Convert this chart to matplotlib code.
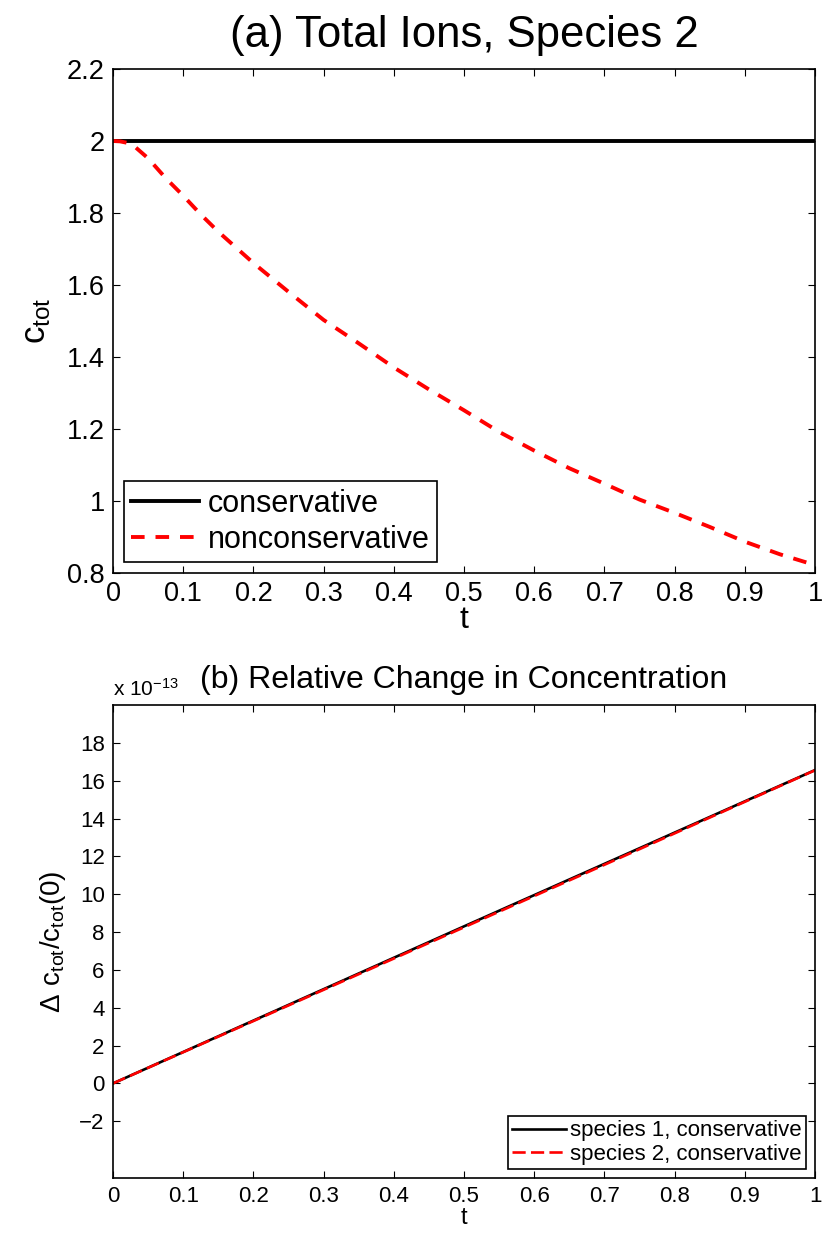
import matplotlib
matplotlib.use("Agg")
import matplotlib.pyplot as plt

plt.rcParams['font.family'] = ['Liberation Sans', 'DejaVu Sans']
plt.rcParams['mathtext.default'] = 'regular'

# (a) total ions, species 2
t_a = [0, 0.01, 0.02, 0.03, 0.05, 0.075, 0.1, 0.125, 0.15, 0.2, 0.25, 0.3, 0.35,
       0.4, 0.45, 0.5, 0.55, 0.6, 0.65, 0.7, 0.75, 0.8, 0.85, 0.9, 0.95, 1.0]
c_cons = [2.0] * len(t_a)
c_noncons = [2.0, 1.999, 1.995, 1.986, 1.952, 1.897, 1.848, 1.796, 1.748, 1.661,
             1.581, 1.503, 1.438, 1.371, 1.31, 1.252, 1.192, 1.14, 1.091, 1.048,
             1.004, 0.967, 0.928, 0.887, 0.852, 0.822]

# (b) relative change, in units of 1e-13
t_b = [0, 0.25, 0.5, 0.75, 1.0]
rel_sp1 = [0, 4.15, 8.3, 12.43, 16.56]
rel_sp2 = [0, 4.12, 8.25, 12.38, 16.55]

xticks = [0, 0.1, 0.2, 0.3, 0.4, 0.5, 0.6, 0.7, 0.8, 0.9, 1]
xticklabels = ["0", "0.1", "0.2", "0.3", "0.4", "0.5", "0.6", "0.7", "0.8", "0.9", "1"]
yticks_a = [0.8, 1.0, 1.2, 1.4, 1.6, 1.8, 2.0, 2.2]
yticklabels_a = ["0.8", "1", "1.2", "1.4", "1.6", "1.8", "2", "2.2"]
yticks_b = [-2, 0, 2, 4, 6, 8, 10, 12, 14, 16, 18]
yticklabels_b = ["\u22122", "0", "2", "4", "6", "8", "10", "12", "14", "16", "18"]

fig = plt.figure(figsize=(8.22, 12.34), dpi=100)
W, H = 822, 1234

def box(l, t, r, b):
    return [l / W, 1 - b / H, (r - l) / W, (b - t) / H]

def style(ax, size):
    ax.tick_params(direction='in', top=True, right=True, length=5, width=0.8,
                   labelsize=size, colors='black', pad=6)
    for s in ax.spines.values():
        s.set_linewidth(1.2)

ax1 = fig.add_axes(box(113, 69, 815, 573))
ax1.plot(t_a, c_cons, color='black', lw=2.8, label='conservative')
ax1.plot(t_a, c_noncons, color='red', lw=2.8, dashes=(3.5, 2.8), label='nonconservative')
ax1.set_xlim(0, 1)
ax1.set_ylim(0.8, 2.2)
ax1.set_xticks(xticks)
ax1.set_xticklabels(xticklabels)
ax1.set_yticks(yticks_a)
ax1.set_yticklabels(yticklabels_a)
style(ax1, 19.5)
ax1.set_title("(a) Total Ions, Species 2", fontsize=31.5, pad=16)
ax1.set_xlabel("t", fontsize=23, labelpad=-2)
ax1.set_ylabel("$c_{tot}$", fontsize=25, labelpad=10)
leg1 = ax1.legend(loc='lower left', fontsize=22, frameon=True, fancybox=False,
                  edgecolor='black', framealpha=1, handlelength=2.2,
                  borderpad=0.25, labelspacing=0.2, handletextpad=0.3,
                  borderaxespad=0.35)
leg1.get_frame().set_linewidth(1.2)

ax2 = fig.add_axes(box(113, 705, 815, 1178))
ax2.plot(t_b, rel_sp1, color='black', lw=1.9, label='species 1, conservative')
ax2.plot(t_b, rel_sp2, color='red', lw=1.9, dashes=(5, 2), label='species 2, conservative')
ax2.set_xlim(0, 1)
ax2.set_ylim(-5, 20)
ax2.set_xticks(xticks)
ax2.set_xticklabels(xticklabels)
ax2.set_yticks(yticks_b)
ax2.set_yticklabels(yticklabels_b)
style(ax2, 16)
ax2.set_title("(b) Relative Change in Concentration", fontsize=23, pad=12)
ax2.set_xlabel("t", fontsize=17, labelpad=0)
ax2.set_ylabel("$\\Delta\\ c_{tot}/c_{tot}(0)$", fontsize=20, labelpad=8)
ax2.text(0, 1.01, "x $10^{\u221213}$", transform=ax2.transAxes, fontsize=15,
         ha='left', va='bottom')
leg2 = ax2.legend(loc='lower right', fontsize=16, frameon=True, fancybox=False,
                  edgecolor='black', framealpha=1, handlelength=2.4,
                  borderpad=0.2, labelspacing=0.1, handletextpad=0.2,
                  borderaxespad=0.4)
leg2.get_frame().set_linewidth(1.2)

fig.savefig("out.png", dpi=100)
